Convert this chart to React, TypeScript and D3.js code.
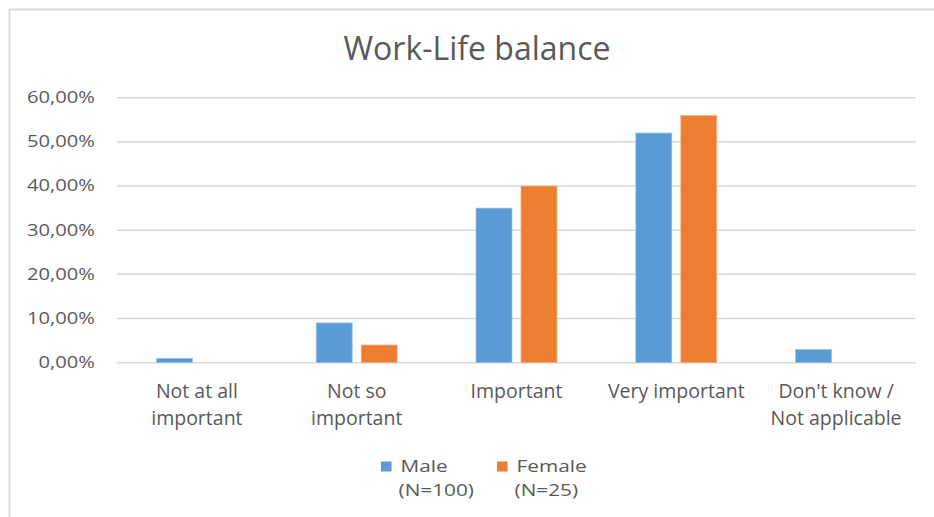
import React from "react";
import * as d3 from "d3";

const categories = [
  ["Not at all", "important"],
  ["Not so", "important"],
  ["Important"],
  ["Very important"],
  ["Don't know /", "Not applicable"],
];
const seriesNames = ["Male", "Female"];
const seriesSub = ["(N=100)", "(N=25)"];
const maleValues = [0.01, 0.09, 0.35, 0.52, 0.03];
const femaleValues = [0, 0.04, 0.4, 0.56, 0];
const yTicks = [0, 0.1, 0.2, 0.3, 0.4, 0.5, 0.6];
const colors = ["#5b9bd5", "#ed7d31"];
const strokes = ["#9dc3e6", "#f4b183"];

const W = 934;
const H = 517;
const FONT = "'Open Sans', sans-serif";
const TXT = "#595959";
const SX = 1.3;

export default function App() {
  const keys = categories.map((c) => c.join(" "));
  const x0 = d3.scaleBand<string>().domain(keys).range([117, 916]).paddingInner(0).paddingOuter(0);
  const groupW = 81;
  const x1 = d3.scaleBand<string>().domain(seriesNames).range([0, groupW]).paddingInner(0.2).paddingOuter(0);
  const y = d3.scaleLinear().domain([0, 0.6]).range([362.7, 97.7]);
  const fmt = (v: number) => (v * 100).toFixed(2).replace(".", ",") + "%";
  const series = [maleValues, femaleValues];

  return (
    <svg
      width={W}
      height={H}
      style={{ position: "absolute", left: 0, top: 0, background: "#fff" }}
    >
      <rect x={0} y={0} width={W} height={H} fill="#fff" />
      <rect x={9.5} y={9.5} width={W + 10} height={H + 10} fill="none" stroke="#d9d9d9" strokeWidth={2} />
      <text x={477} y={59.5} textAnchor="middle" fontFamily={FONT} fontSize={32} fill={TXT}>
        Work-Life balance
      </text>
      {yTicks.map((t) => (
        <g key={t}>
          <line x1={117} x2={916} y1={y(t)} y2={y(t)} stroke="#d9d9d9" strokeWidth={1.5} />
          <g transform={`translate(95,${y(t)}) scale(${SX},1)`}>
            <text x={0} y={0} dy="0.35em" textAnchor="end" fontFamily={FONT} fontSize={15.5} fill={TXT}>
              {fmt(t)}
            </text>
          </g>
        </g>
      ))}
      {keys.map((k, i) => {
        const gx = (x0(k) as number) + x0.bandwidth() / 2 - groupW / 2;
        return (
          <g key={k}>
            {series.map((vals, s) => {
              const v = vals[i];
              if (v <= 0) return null;
              return (
                <rect
                  key={s}
                  x={gx + (x1(seriesNames[s]) as number)}
                  y={y(v)}
                  width={x1.bandwidth()}
                  height={y(0) - y(v)}
                  fill={colors[s]}
                  stroke={strokes[s]}
                  strokeWidth={0.75}
                />
              );
            })}
            {categories[i].map((line, j) => (
              <text
                key={j}
                x={(x0(k) as number) + x0.bandwidth() / 2}
                y={398 + j * 26.8}
                textAnchor="middle"
                fontFamily={FONT}
                fontSize={19.5}
                fill={TXT}
              >
                {line}
              </text>
            ))}
          </g>
        );
      })}
      {seriesNames.map((n, s) => {
        const lx = [381, 497][s];
        return (
          <g key={n}>
            <rect x={lx} y={461.5} width={10.5} height={10} fill={colors[s]} />
            <g transform={`translate(${lx + 19.5},472) scale(${SX},1)`}>
              <text x={0} y={0} fontFamily={FONT} fontSize={16} fill={TXT}>
                {n}
              </text>
            </g>
            <g transform={`translate(${lx + 17.5},495.5) scale(${SX},1)`}>
              <text x={0} y={0} fontFamily={FONT} fontSize={16} fill={TXT}>
                {seriesSub[s]}
              </text>
            </g>
          </g>
        );
      })}
    </svg>
  );
}
